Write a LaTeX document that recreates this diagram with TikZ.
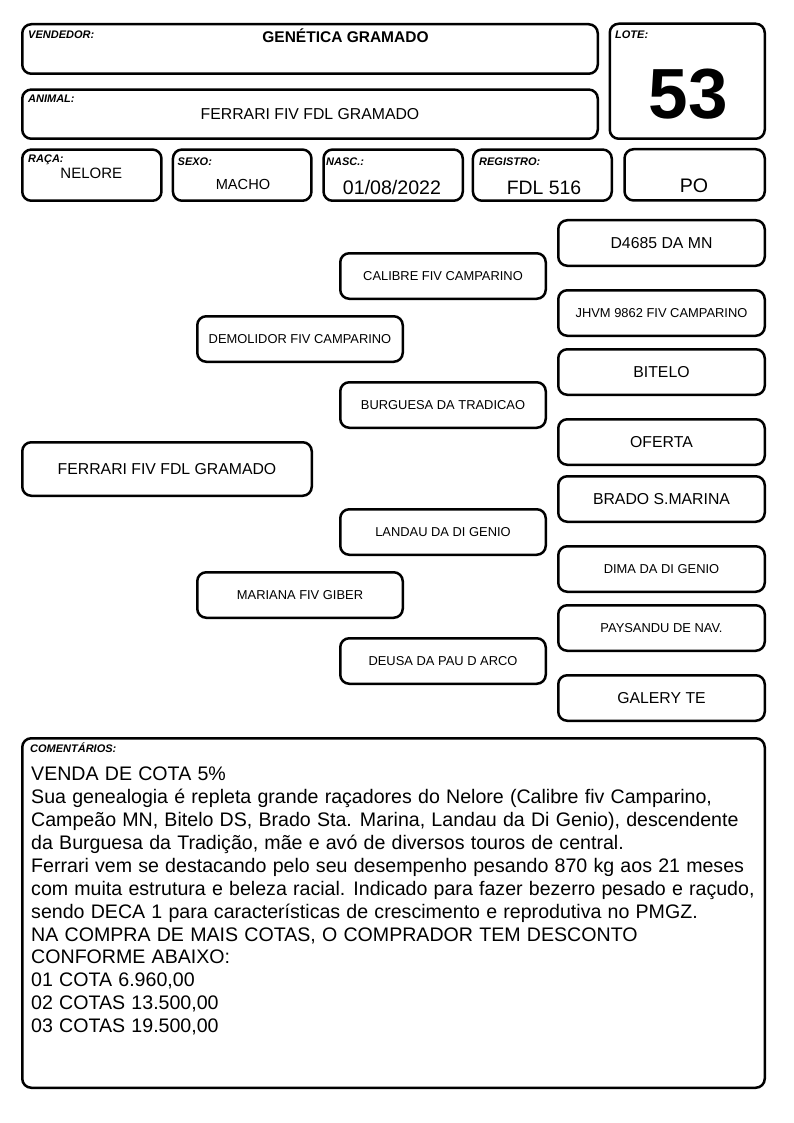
\documentclass[tikz,border=0pt]{standalone}
\usepackage{fontspec}
\setmainfont{Liberation Sans}
\newcommand\fsz[1]{\fontsize{#1}{#1}\selectfont}
\newcommand\cmtfont{\fsz{19.6}\spaceskip=6.2pt\relax}
\newcommand\gbox[7]{%
  \node[box, minimum width={(#4-#2-2.5)*1pt}, minimum height={(#5-#3-2.5)*1pt},
        font=\fsz{#6}] (#1) at ({(#2+#4)/2},{(#3+#5)/2}) {#7};}
\tikzset{
  box/.style={draw, line width=2.5pt, rounded corners=9pt, inner sep=0pt},
  lbl/.style={anchor=base west, inner sep=0pt, font=\fsz{11}\bfseries\itshape},
  val/.style={anchor=base, inner sep=0pt},
  cmt/.style={anchor=base west, inner sep=0pt, font=\cmtfont},
}
\begin{document}
\begin{tikzpicture}[x=1pt,y=-1pt]
\useasboundingbox (0,0) rectangle (794,1123);
% header boxes
\gbox{vend}{21}{23}{599}{75}{10}{}
\gbox{lote}{608.5}{22.5}{766}{140}{10}{}
\gbox{anim}{21}{88.3}{599}{140}{10}{}
\gbox{raca}{21}{148.3}{162.7}{202}{10}{}
\gbox{sexo}{171.7}{148.3}{312.7}{202}{10}{}
\gbox{nasc}{322.3}{148.3}{464}{202}{10}{}
\gbox{reg}{471.7}{148.3}{613}{202}{10}{}
\gbox{po}{623.3}{148}{766}{201.7}{10}{}
\gbox{com}{21}{737}{766}{1089}{10}{}
% header labels
\node[lbl] (lvend) at (28,38.5) {VENDEDOR:};
\node[lbl] (llote) at (615,39) {LOTE:};
\node[lbl] (lanim) at (28,102.3) {ANIMAL:};
\node[lbl] (lraca) at (28,162.7) {RAÇA:};
\node[lbl] (lsexo) at (177.5,165.7) {SEXO:};
\node[lbl] (lnasc) at (326,165.7) {NASC.:};
\node[lbl] (lreg) at (479,165.7) {REGISTRO:};
\node[lbl] (lcom) at (30,752.7) {COMENTÁRIOS:};
% header values
\node[val, font=\fsz{15.5}\bfseries] (vvend) at (345.5,42.5) {GENÉTICA GRAMADO};
\node[val, font=\fsz{15.8}] (vanim) at (310,119.3) {FERRARI FIV FDL GRAMADO};
\node[val, font=\fsz{71}\bfseries] (vlote) at (688,118.3) {53};
\node[val, font=\fsz{15}] (vraca) at (91.3,178.3) {NELORE};
\node[val, font=\fsz{14.6}] (vsexo) at (243,189.3) {MACHO};
\node[val, font=\fsz{19.6}] (vnasc) at (392,194.3) {01/08/2022};
\node[val, font=\fsz{19.4}] (vreg) at (544,194.3) {FDL 516};
\node[val, font=\fsz{19.6}] (vpo) at (694,192.8) {PO};
% pedigree
\gbox{ferr}{21}{441}{313}{497}{15.8}{FERRARI FIV FDL GRAMADO}
\gbox{demo}{196}{315}{404}{363}{12.9}{DEMOLIDOR FIV CAMPARINO}
\gbox{mari}{196}{571}{404}{619}{12.9}{MARIANA FIV GIBER}
\gbox{cali}{339}{252}{547}{300}{12.9}{CALIBRE FIV CAMPARINO}
\gbox{burg}{339}{381}{547}{429}{12.9}{BURGUESA DA TRADICAO}
\gbox{land}{339}{508}{547}{556}{12.9}{LANDAU DA DI GENIO}
\gbox{deus}{339}{637}{547}{685}{12.9}{DEUSA DA PAU D ARCO}
\gbox{dfour}{557}{219}{766}{267}{15.8}{D4685 DA MN}
\gbox{jhvm}{557}{289}{766}{337}{12.9}{JHVM 9862 FIV CAMPARINO}
\gbox{bite}{557}{348}{766}{396}{15.8}{BITELO}
\gbox{ofer}{557}{418}{766}{466}{15.8}{OFERTA}
\gbox{brad}{557}{475}{766}{523}{15.8}{BRADO S.MARINA}
\gbox{dima}{557}{545}{766}{593}{12.9}{DIMA DA DI GENIO}
\gbox{pays}{557}{604}{766}{652}{12.9}{PAYSANDU DE NAV.}
\gbox{gale}{557}{674}{766}{722}{15.8}{GALERY TE}
% comments
\node[cmt] (c1) at (31,780.7) {VENDA DE COTA 5\%};
\node[cmt] (c2) at (31,803.6) {Sua genealogia é repleta grande raçadores do Nelore (Calibre fiv Camparino,};
\node[cmt] (c3) at (31,826.5) {Campeão MN, Bitelo DS, Brado Sta. Marina, Landau da Di Genio), descendente};
\node[cmt] (c4) at (31,849.4) {da Burguesa da Tradição, mãe e avó de diversos touros de central.};
\node[cmt] (c5) at (31,872.3) {Ferrari vem se destacando pelo seu desempenho pesando 870 kg aos 21 meses};
\node[cmt] (c6) at (31,895.2) {com muita estrutura e beleza racial. Indicado para fazer bezerro pesado e raçudo,};
\node[cmt] (c7) at (31,918.1) {sendo DECA 1 para características de crescimento e reprodutiva no PMGZ.};
\node[cmt] (c8) at (31,941.0) {NA COMPRA DE MAIS COTAS, O COMPRADOR TEM DESCONTO};
\node[cmt] (c9) at (31,963.9) {CONFORME ABAIXO:};
\node[cmt] (c10) at (31,986.8) {01 COTA 6.960,00};
\node[cmt] (c11) at (31,1009.7) {02 COTAS 13.500,00};
\node[cmt] (c12) at (31,1032.6) {03 COTAS 19.500,00};
\end{tikzpicture}
\end{document}
